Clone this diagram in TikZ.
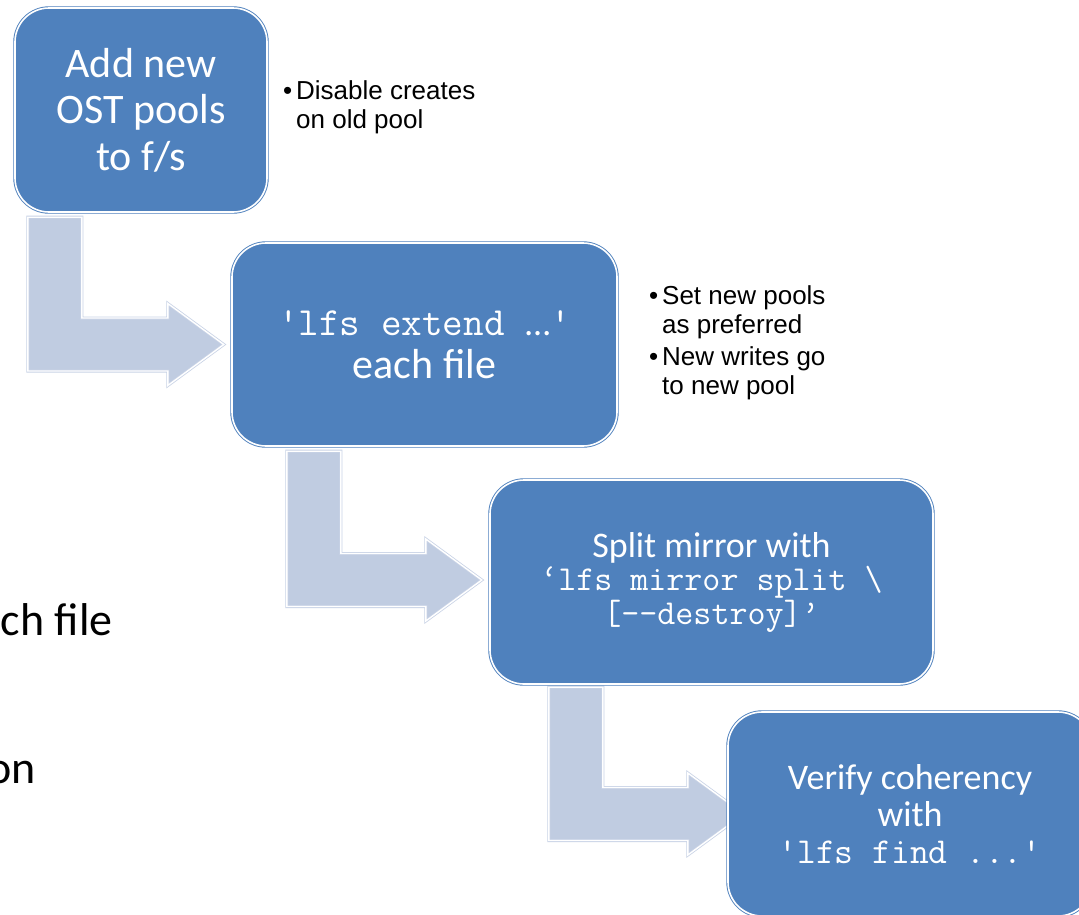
\documentclass[tikz,border=0pt]{standalone}
\usepackage{fontspec}
\setmainfont{Carlito}
\newfontfamily\arialf{Liberation Sans}
\usetikzlibrary{calc}
\definecolor{boxblue}{HTML}{4F81BD}
\definecolor{arrowfill}{HTML}{C0CCE1}
\definecolor{arrowline}{HTML}{C9D3E6}
\tikzset{
  box/.style={rectangle, rounded corners=34pt, fill=boxblue, draw=boxblue, line width=0.9pt,
    double=white, double distance=1.6pt, text=white, align=center, inner sep=0pt},
  anchorbox/.style={rectangle, inner sep=0pt},
  arrowsty/.style={fill=arrowfill, draw=arrowline, line width=0.8pt, double=white, double distance=1.4pt},
  bullettext/.style={font=\arialf\fontsize{26}{29}\selectfont, text=black, align=left, anchor=north west, inner sep=0pt},
  edgetext/.style={font=\fontsize{46}{50}\selectfont, text=black, inner sep=0pt, anchor=base east},
}
\newcommand\sq{\char"27}
\newcommand\bentarrow[4]{%
  \path[arrowsty]
    ($(#1.south west)+(#3,5)$) coordinate (#1#2a)
    -- ++(54,0) coordinate (#1#2b)
    -- ($(#1#2b |- #2.west)+(0,-26.5)$)
    -- ($(#2.west)+(-#4-56,-26.5)$)
    -- ($(#2.west)+(-#4-56,-41)$)
    -- ($(#2.west)+(-#4,0)$) coordinate (#1#2tip)
    -- ($(#2.west)+(-#4-56,41)$)
    -- ($(#2.west)+(-#4-56,26.5)$)
    -- ($(#1#2a |- #2.west)+(0,26.5)$)
    -- cycle;}
\begin{document}
\begin{tikzpicture}[x=1pt,y=-1pt]
\clip (0,0) rectangle (1079,914);
\fill[white] (0,0) rectangle (1079,914);
% left partial texts
\node[edgetext] (t1) at (113,635) {ch file};
\node[edgetext] (t2) at (36,783) {on};
% box places (arrows drawn first, boxes on top)
\path
  (141,110) node[anchorbox, minimum width=252pt, minimum height=204pt] (b1) {}
  (424.5,344.5) node[anchorbox, minimum width=385pt, minimum height=203pt] (b2) {}
  (711.5,580) node[anchorbox, minimum width=443pt, minimum height=204pt] (b3) {}
  (910,814) node[anchorbox, minimum width=364pt, minimum height=204pt] (b4) {};
\bentarrow{b1}{b2}{13}{8}
\bentarrow{b2}{b3}{55}{8}
\bentarrow{b3}{b4}{59}{-16}
% boxes
\node[box, minimum width=252pt, minimum height=204pt, font=\fontsize{42}{46.5}\selectfont] (B1) at (b1) {Add new\\OST pools\\to f/s};
\node[box, minimum width=385pt, minimum height=203pt, font=\fontsize{42}{43}\selectfont] (B2) at (b2)
  {{\ttfamily\fontsize{40}{43}\selectfont \sq lfs extend }{\fontsize{36}{43}\selectfont …}{\ttfamily\fontsize{40}{43}\selectfont\sq}\\each file};
\node[box, minimum width=443pt, minimum height=204pt, font=\fontsize{36}{33.5}\selectfont] (B3) at ($(b3)+(0,2)$)
  {Split mirror with\\{\ttfamily\fontsize{35}{33.5}\selectfont ‘lfs mirror split \textbackslash}\\{\ttfamily\fontsize{35}{33.5}\selectfont [{-}{-}destroy]’}};
\node[box, minimum width=364pt, minimum height=204pt, font=\fontsize{36}{37}\selectfont] (B4) at (b4)
  {Verify coherency\\with\\{\ttfamily\fontsize{36.5}{33}\selectfont \sq lfs find ...\sq}};
% bullets
\node[bullettext] (n1) at (283,80) {\makebox[13pt][l]{•}Disable creates\\\hspace*{13pt}on old pool};
\node[bullettext] (n2) at (649,285) {\makebox[13pt][l]{•}Set new pools\\\hspace*{13pt}as preferred};
\node[bullettext] (n3) at (649,346) {\makebox[13pt][l]{•}New writes go\\\hspace*{13pt}to new pool};
\end{tikzpicture}
\end{document}
